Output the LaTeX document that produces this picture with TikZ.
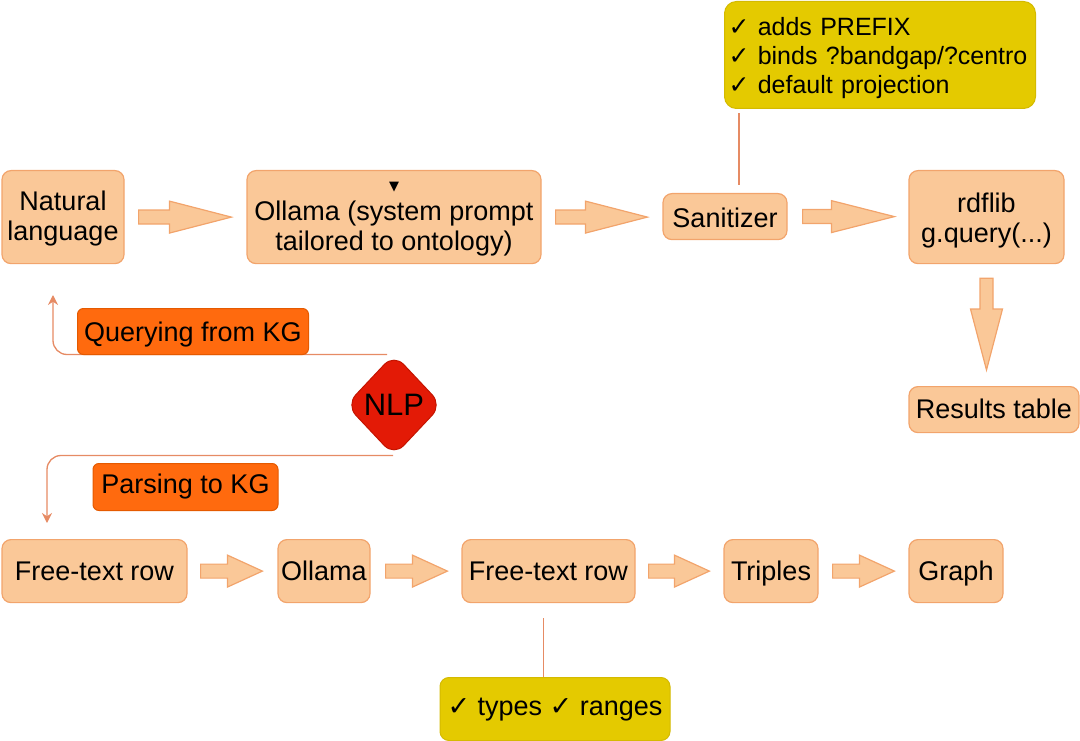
\documentclass[tikz,border=0pt]{standalone}
\usepackage{fontspec}
\setmainfont{Liberation Sans}
\newfontfamily\symfont{DejaVu Sans}
\usetikzlibrary{calc,shapes.geometric,arrows.meta}
\definecolor{boxfill}{HTML}{FAC898}
\definecolor{boxedge}{HTML}{F2A46C}
\definecolor{lblfill}{HTML}{FF6A0E}
\definecolor{lbledge}{HTML}{E55A00}
\definecolor{yelfill}{HTML}{E4CA00}
\definecolor{yeledge}{HTML}{D4BA00}
\definecolor{nlpfill}{HTML}{E31A06}
\definecolor{nlpedge}{HTML}{C41400}
\definecolor{connclr}{HTML}{E68B64}
\tikzset{
  mainfont/.style={font=\fontsize{27}{30}\selectfont},
  tb/.style 2 args={text height=#1pt, text depth=#2pt, anchor=north},
  procbox/.style={mainfont, draw=boxedge, fill=boxfill, line width=1.2pt, rounded corners=9pt, inner sep=0pt, align=center},
  lblbox/.style={mainfont, draw=lbledge, fill=lblfill, line width=1pt, rounded corners=6pt, inner sep=0pt, align=center},
  notebox/.style={draw=yeledge, fill=yelfill, line width=1pt, rounded corners=12pt, inner sep=0pt},
  barrow/.style={draw=boxedge, fill=boxfill, line width=1.2pt, line join=miter},
  conn/.style={draw=connclr, line width=1.3pt},
  tip/.style={-{Stealth[length=10pt,width=10pt]}}
}
\newcommand\harrow[5]{%
  \draw[barrow] let \p1=([xshift=#3pt]#1.east), \p2=([xshift=-#4pt]#2.west) in
    (\x1,\y1+7pt) -- (\x2-#5pt,\y1+7pt) -- (\x2-#5pt,\y1+16pt) -- (\x2,\y1)
    -- (\x2-#5pt,\y1-16pt) -- (\x2-#5pt,\y1-7pt) -- (\x1,\y1-7pt) -- cycle;}
\begin{document}
\begin{tikzpicture}[x=1pt,y=-1pt]
\useasboundingbox (0,0) rectangle (1080,741);

% top row
\node[procbox, tb={70}{23}, minimum width=122pt] (nat) at (63,170) {Natural\\language};
\node[procbox, tb={80}{13}, minimum width=294pt] (oll) at (394,170)
  {{\symfont\fontsize{13}{13}\selectfont ▼}\\Ollama (system prompt\\tailored to ontology)};
\node[procbox, tb={34}{12}, minimum width=124pt] (san) at (725,193) {Sanitizer};
\node[procbox, tb={72}{21}, minimum width=155pt] (rdf) at (986.5,170) {rdflib\\g.query(...)};
\node[procbox, tb={32}{14}, minimum width=170pt] (res) at (994,386) {Results table};

% note top
\node[notebox, anchor=north west, text height=34pt, text depth=73pt, text width=303pt, inner xsep=4pt,
      align=left, font=\fontsize{25}{29}\selectfont] (ytop) at (724,1)
  {{\symfont ✓} adds PREFIX\\{\symfont ✓} binds ?bandgap/?centro\\{\symfont ✓} default projection};
\draw[conn] ([xshift=14pt,yshift=8pt]san.north) -- ([xshift=14pt,yshift=-4pt]san.north |- ytop.south);

% bottom row
\node[procbox, tb={41}{22}, minimum width=185pt] (ft1) at (94.5,539) {Free-text row};
\node[procbox, tb={41}{22}, minimum width=92pt] (oll2) at (324,539) {Ollama};
\node[procbox, tb={41}{22}, minimum width=173pt] (ft2) at (548.5,539) {Free-text row};
\node[procbox, tb={41}{22}, minimum width=94pt] (tri) at (771,539) {Triples};
\node[procbox, tb={41}{22}, minimum width=94pt] (gra) at (956,539) {Graph};

% note bottom
\node[notebox, mainfont, tb={38}{25}, minimum width=230pt, rounded corners=9pt] (ybot) at (555,677)
  {{\symfont ✓} types {\symfont ✓} ranges};
\draw[conn] ([xshift=-5pt,yshift=-15pt]ft2.south) -- ([xshift=-5pt]ft2.south |- ybot.north);

% block arrows
\harrow{nat}{oll}{14}{15}{62}
\harrow{oll}{san}{14}{15}{62}
\harrow{san}{rdf}{15}{14}{63}
\harrow{ft1}{oll2}{13}{15}{35}
\harrow{oll2}{ft2}{15}{14}{35}
\harrow{ft2}{tri}{13}{14}{35}
\harrow{tri}{gra}{14}{14}{35}
\draw[barrow] let \p1=([yshift=-14pt]rdf.south), \p2=([yshift=16pt]res.north) in
  (\x1-6.5pt,\y1) -- (\x1-6.5pt,\y2+61pt) -- (\x1-16pt,\y2+61pt) -- (\x1,\y2)
  -- (\x1+16pt,\y2+61pt) -- (\x1+6.5pt,\y2+61pt) -- (\x1+6.5pt,\y1) -- cycle;

% NLP switch
\node[diamond, minimum width=96pt, minimum height=102pt, inner sep=0pt, rounded corners=14pt,
      fill=nlpfill, draw=nlpedge, line width=1pt, font=\fontsize{31}{31}\selectfont] (nlp) at (394,405) {NLP};
\coordinate (qend) at (53,295);
\coordinate (pend) at (47,523);
\draw[conn, rounded corners=14pt, tip] ([xshift=-7pt,yshift=-1pt]nlp.north) -| (qend);
\draw[conn, rounded corners=14pt, tip] ([xshift=-1pt,yshift=1pt]nlp.south) -| (pend);
\node[lblbox, tb={33}{13}, minimum width=231pt] (query) at (193,308) {Querying from KG};
\node[lblbox, tb={30}{17}, minimum width=185pt] (parse) at (185.5,463) {Parsing to KG};
\end{tikzpicture}
\end{document}
